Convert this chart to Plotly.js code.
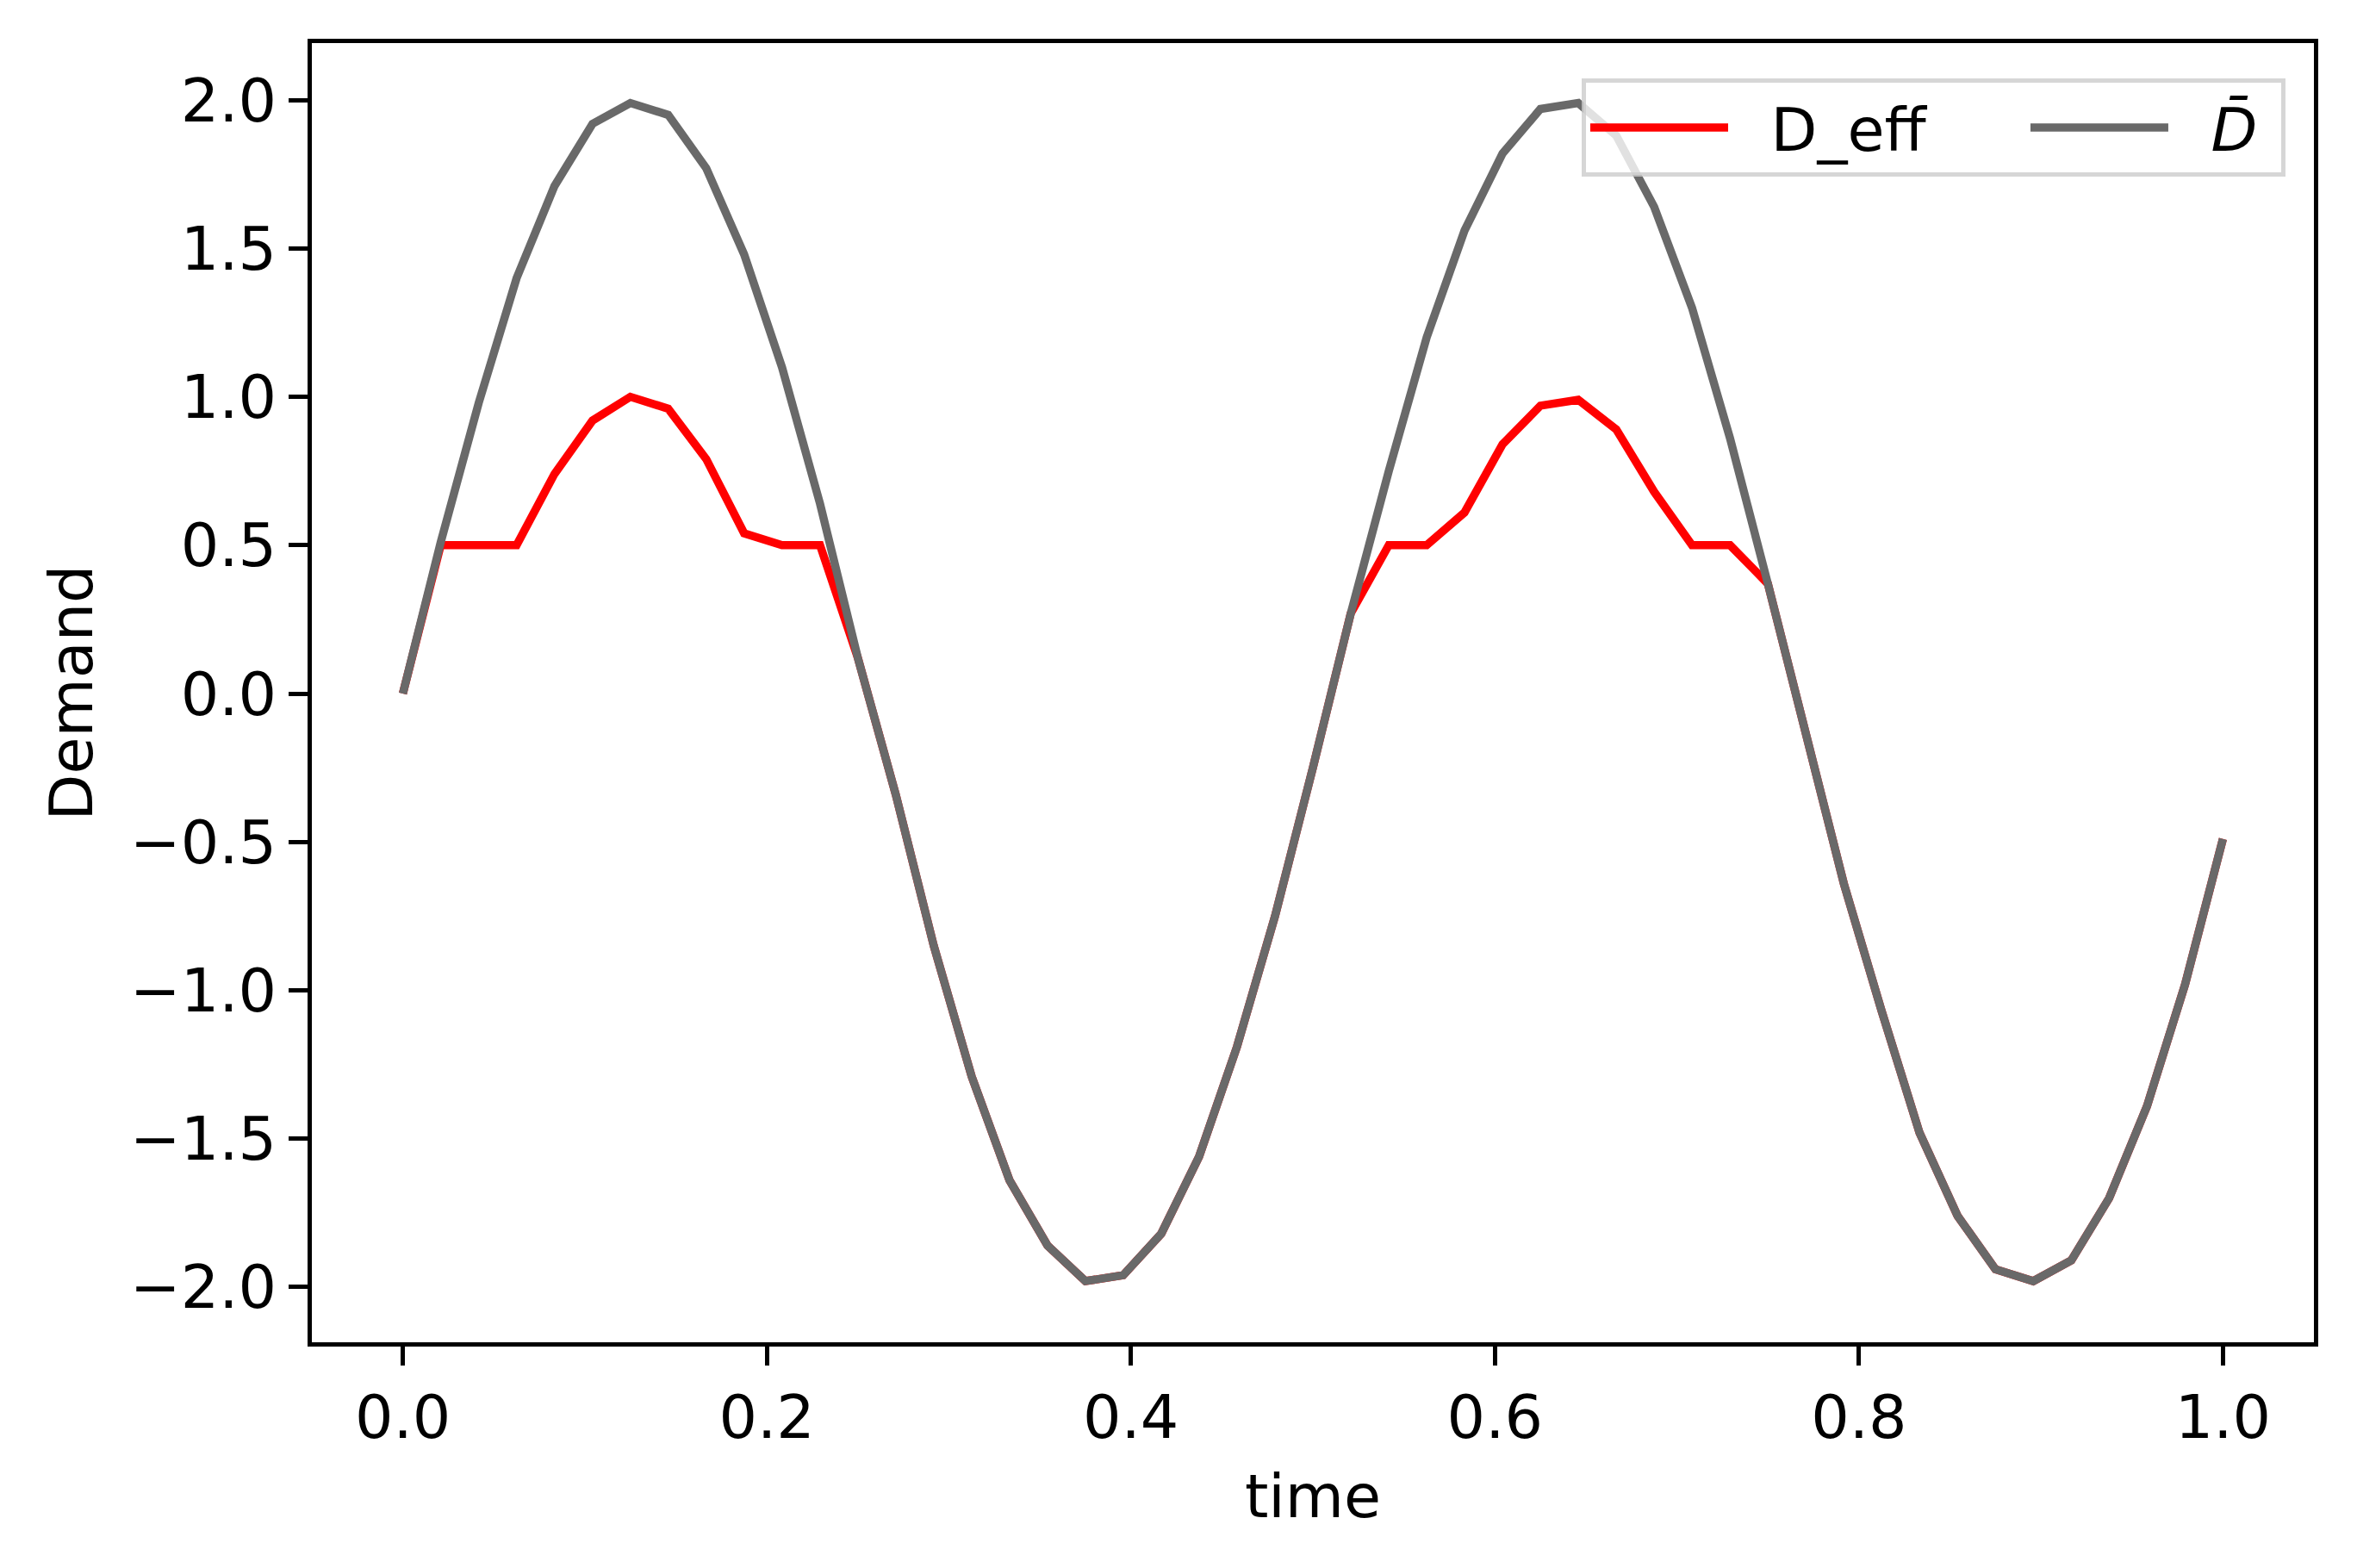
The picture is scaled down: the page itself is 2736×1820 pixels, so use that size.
<!DOCTYPE html>
<html>
<head>
<meta charset="utf-8">
<script src="https://cdn.plot.ly/plotly-3.0.1.min.js"></script>
<style>html,body{margin:0;padding:0;background:#fff}</style>
</head>
<body>
<div id="chart" style="width:2736px;height:1820px"></div>
<script>
// time samples (x axis)
const time = [0, 0.0208, 0.0417, 0.0625, 0.0833, 0.1042, 0.125, 0.1458, 0.1667, 0.1875,
  0.2083, 0.2292, 0.25, 0.2708, 0.2917, 0.3125, 0.3333, 0.3542, 0.375, 0.3958,
  0.4167, 0.4375, 0.4583, 0.4792, 0.5, 0.5208, 0.5417, 0.5625, 0.5833, 0.6042,
  0.625, 0.6458, 0.6667, 0.6875, 0.7083, 0.7292, 0.75, 0.7708, 0.7917, 0.8125,
  0.8333, 0.8542, 0.875, 0.8958, 0.9167, 0.9375, 0.9583, 0.9792, 1.0];

// Effective demand (red)
const dEff = [0.0, 0.5, 0.5, 0.5, 0.74, 0.92, 1.0, 0.96, 0.79, 0.54,
  0.5, 0.5, 0.12, -0.34, -0.85, -1.29, -1.64, -1.86, -1.98, -1.96,
  -1.82, -1.56, -1.19, -0.75, -0.25, 0.27, 0.5, 0.5, 0.61, 0.84,
  0.97, 0.99, 0.89, 0.68, 0.5, 0.5, 0.37, -0.14, -0.64, -1.07,
  -1.48, -1.76, -1.94, -1.98, -1.91, -1.70, -1.39, -0.98, -0.49];

// Mean demand D-bar (dim gray)
const dBar = [0.0, 0.51, 0.98, 1.40, 1.71, 1.92, 1.99, 1.95, 1.77, 1.48,
  1.10, 0.64, 0.12, -0.34, -0.85, -1.29, -1.64, -1.86, -1.98, -1.96,
  -1.82, -1.56, -1.19, -0.75, -0.25, 0.27, 0.75, 1.20, 1.56, 1.82,
  1.97, 1.99, 1.88, 1.64, 1.30, 0.86, 0.37, -0.14, -0.64, -1.07,
  -1.48, -1.76, -1.94, -1.98, -1.91, -1.70, -1.39, -0.98, -0.49];

const seriesLabels = ['D_eff', '<i>D\u0304</i>'];
const xTitle = 'time';
const yTitle = 'Demand';

const FONT = 'DejaVu Sans, Liberation Sans, sans-serif';
const FS = 70;
const NB = '\u00A0';

const traces = [
  {x: time, y: dEff, type: 'scatter', mode: 'lines',
   name: NB + NB + seriesLabels[0] + NB + NB + NB + NB + NB,
   line: {color: '#ff0000', width: 9.5}},
  {x: time, y: dBar, type: 'scatter', mode: 'lines',
   name: NB + NB + seriesLabels[1] + NB,
   line: {color: '#696969', width: 9.5}}
];

const axisCommon = {
  showgrid: false, zeroline: false,
  showline: true, mirror: true, linecolor: 'black', linewidth: 5,
  ticks: 'outside', ticklen: 22, tickwidth: 5, tickcolor: 'black',
  tickfont: {family: FONT, size: FS, color: 'black'},
  tickformat: '.1f'
};

const layout = {
  width: 2736, height: 1820,
  margin: {l: 362, r: 50, t: 50, b: 262},
  paper_bgcolor: 'white', plot_bgcolor: 'white',
  font: {family: FONT, size: FS, color: 'black'},
  showlegend: true,
  xaxis: Object.assign({}, axisCommon, {
    range: [-0.05, 1.05], tick0: 0, dtick: 0.2,
    title: {text: xTitle, font: {family: FONT, size: FS, color: 'black'}, standoff: 28}
  }),
  yaxis: Object.assign({}, axisCommon, {
    range: [-2.186, 2.192], tick0: 0, dtick: 0.5,
    title: {text: yTitle, font: {family: FONT, size: FS, color: 'black'}, standoff: 22}
  }),
  legend: {
    orientation: 'h', x: 0.9858, xanchor: 'right', y: 0.935, yanchor: 'middle',
    bgcolor: 'rgba(255,255,255,0.8)', bordercolor: 'rgba(204,204,204,0.8)', borderwidth: 5,
    font: {family: FONT, size: FS, color: 'black'},
    itemwidth: 160
  }
};

Plotly.newPlot('chart', traces, layout, {displayModeBar: false, staticPlot: true});
</script>
</body>
</html>
